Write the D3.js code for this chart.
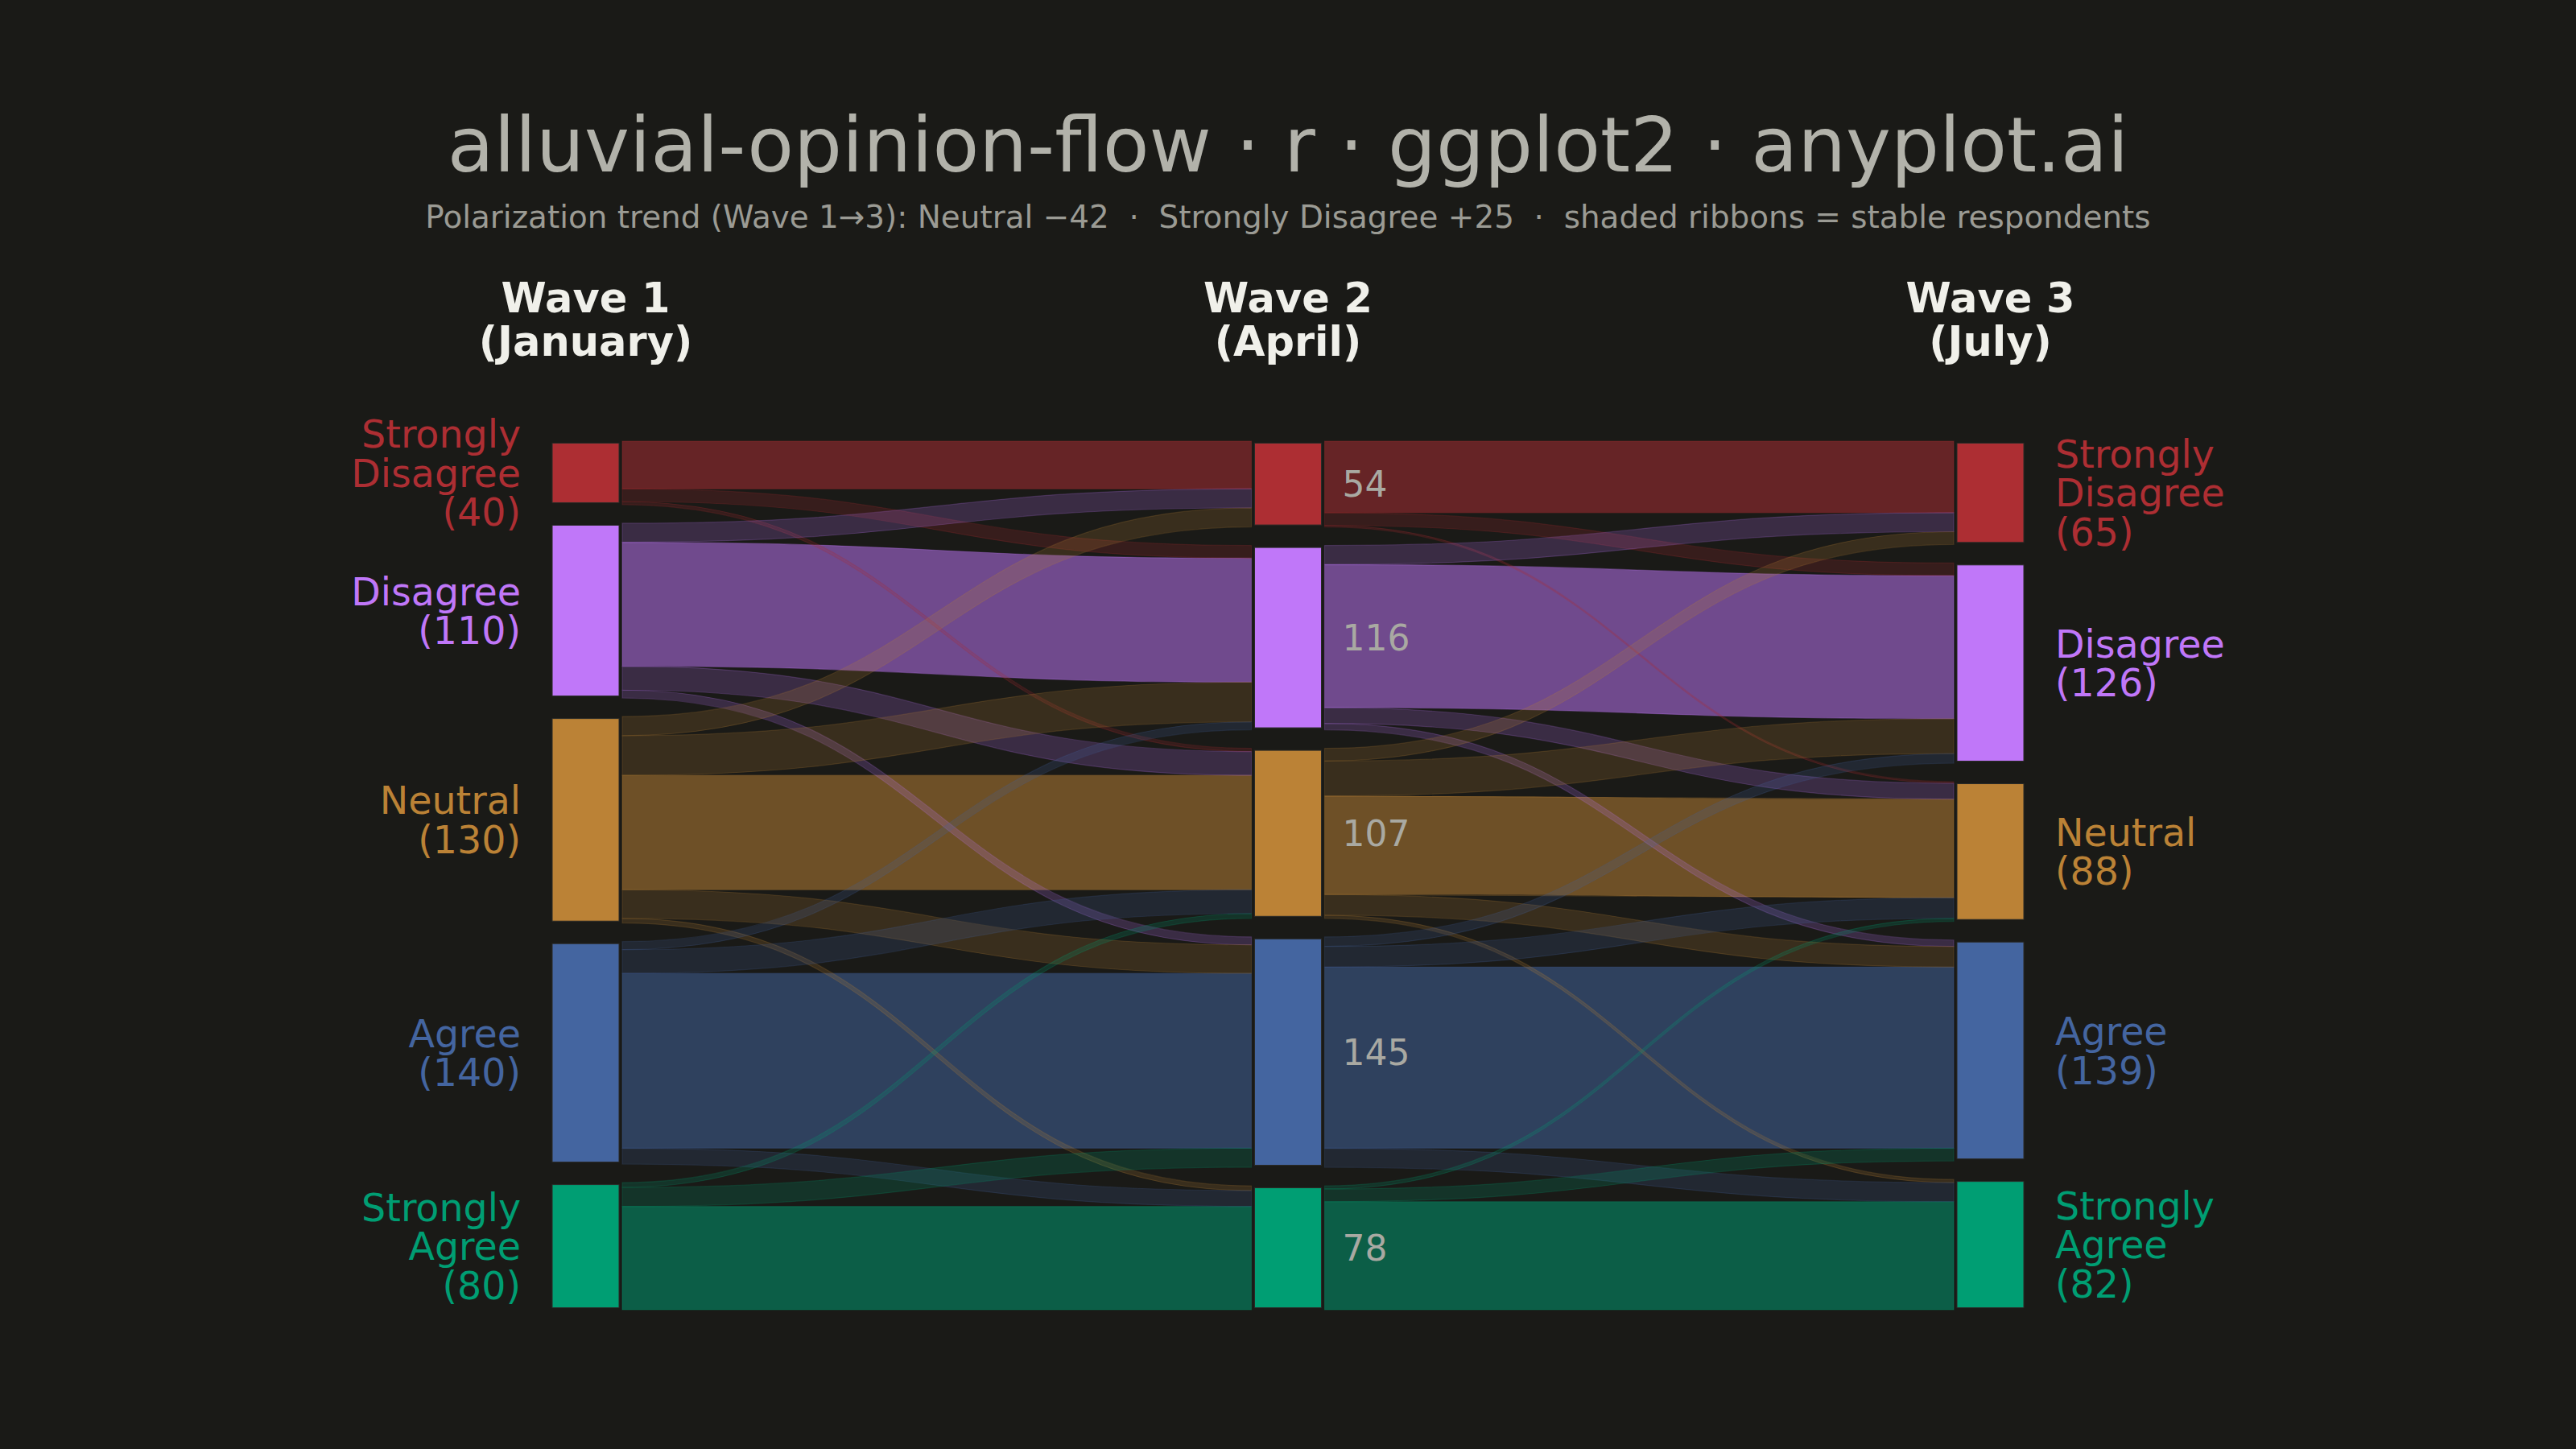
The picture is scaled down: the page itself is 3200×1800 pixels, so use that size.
<!DOCTYPE html>
<meta charset="utf-8">
<head>
  <title>Alluvial opinion flow</title>
</head>

<style>
html, body {
  margin: 0;
  padding: 0;
  background: #1a1a17;
}
svg {
  display: block;
  font-family: "DejaVu Sans", sans-serif;
}
</style>

<body>
  <svg width="3200" height="1800"></svg>

  <script src="https://cdn.jsdelivr.net/npm/d3@7"></script>
  <script>
// survey waves
var waves = ["Wave 1", "Wave 2", "Wave 3"];
var waveMonths = ["(January)", "(April)", "(July)"];

// opinion categories, top to bottom
var categories = ["Strongly Disagree", "Disagree", "Neutral", "Agree", "Strongly Agree"];
var categoryColors = ["#ad2e33", "#c077f9", "#bb8236", "#4465a0", "#009e73"];

// respondents moving between waves (rows = from, columns = to)
var flowsWave1to2 = [
  [30,  8,  2,   0,  0],
  [12, 78, 15,   5,  0],
  [12, 25, 72,  18,  3],
  [ 0,  5, 15, 110, 10],
  [ 0,  0,  3,  12, 65]
];
var flowsWave2to3 = [
  [45,  8,  1,   0,  0],
  [12, 90, 10,   4,  0],
  [ 8, 22, 62,  13,  2],
  [ 0,  6, 13, 114, 12],
  [ 0,  0,  2,   8, 68]
];

var title = "alluvial-opinion-flow · r · ggplot2 · anyplot.ai";
var subtitle = "Polarization trend (Wave 1\u21923): Neutral \u221242  \u00b7  Strongly Disagree +25  \u00b7  shaded ribbons = stable respondents";

var transitions = [flowsWave1to2, flowsWave2to3];

// node totals per wave
var rowSums = function(m) { return m.map(function(r) { return d3.sum(r); }); };
var colSums = function(m) { return m[0].map(function(_, j) { return d3.sum(m, function(r) { return r[j]; }); }); };
var totals = [rowSums(flowsWave1to2), colSums(flowsWave1to2), colSums(flowsWave2to3)];
var grand = d3.sum(totals[0]);

var gapUnits = 11.65;
var nodeW = 83;
var ribbonPad = 45.5;

var x = d3.scalePoint()
  .domain(waves)
  .range([727.5, 2472.5]);

var y = d3.scaleLinear()
  .domain([0, grand + gapUnits * (categories.length - 1)])
  .range([548, 1627]);

var color = d3.scaleOrdinal()
  .domain(categories)
  .range(categoryColors);

// stacked positions of each category at each wave
var nodes = totals.map(function(t, w) {
  var acc = 0;
  return t.map(function(v, i) {
    var n = { wave: w, cat: i, value: v, start: acc, end: acc + v };
    acc += v + gapUnits;
    return n;
  });
});

var svg = d3.select("svg");

svg.append("rect")
  .attr("width", 3200)
  .attr("height", 1800)
  .attr("fill", "#1a1a17");

// ribbons
var ribbons = [];
transitions.forEach(function(m, t) {
  var outOff = nodes[t].map(function(n) { return n.start; });
  var inOff = nodes[t + 1].map(function(n) { return n.start; });
  // offsets at source are ordered by destination, at target by source
  var inPos = {};
  for (var j = 0; j < categories.length; j++) {
    for (var i = 0; i < categories.length; i++) {
      if (m[i][j] > 0) {
        inPos[i + "-" + j] = inOff[j];
        inOff[j] += m[i][j];
      }
    }
  }
  for (var i2 = 0; i2 < categories.length; i2++) {
    for (var j2 = 0; j2 < categories.length; j2++) {
      var v = m[i2][j2];
      if (v <= 0) continue;
      ribbons.push({
        t: t, from: i2, to: j2, value: v,
        s0: outOff[i2], s1: outOff[i2] + v,
        d0: inPos[i2 + "-" + j2], d1: inPos[i2 + "-" + j2] + v,
        stable: i2 === j2
      });
      outOff[i2] += v;
    }
  }
});

function ribbonPath(r) {
  var x0 = x(waves[r.t]) + ribbonPad;
  var x1 = x(waves[r.t + 1]) - ribbonPad;
  var xm = (x0 + x1) / 2;
  var a0 = y(r.s0), a1 = y(r.s1), b0 = y(r.d0), b1 = y(r.d1);
  return "M" + x0 + "," + a0 +
    "C" + xm + "," + a0 + " " + xm + "," + b0 + " " + x1 + "," + b0 +
    "L" + x1 + "," + b1 +
    "C" + xm + "," + b1 + " " + xm + "," + a1 + " " + x0 + "," + a1 + "Z";
}

ribbons.sort(function(a, b) { return (b.stable ? 1 : 0) - (a.stable ? 1 : 0); });

svg.append("g")
  .selectAll("path")
  .data(ribbons)
  .enter()
  .append("path")
  .attr("d", ribbonPath)
  .attr("fill", function(d) { return color(categories[d.from]); })
  .attr("fill-opacity", function(d) { return d.stable ? 0.52 : 0.2; })
  .attr("stroke", function(d) { return color(categories[d.from]); })
  .attr("stroke-opacity", function(d) { return d.stable ? 0.3 : 0.2; })
  .attr("stroke-width", 1.2);

// strata
var allNodes = d3.merge(nodes);
svg.append("g")
  .selectAll("rect")
  .data(allNodes)
  .enter()
  .append("rect")
  .attr("x", function(d) { return x(waves[d.wave]) - nodeW / 2; })
  .attr("y", function(d) { return y(d.start) + 2.5; })
  .attr("width", nodeW)
  .attr("height", function(d) { return y(d.end) - y(d.start) - 5; })
  .attr("fill", function(d) { return color(categories[d.cat]); })
  .attr("stroke", "#2a2a27")
  .attr("stroke-width", 1);

// title and subtitle
svg.append("text")
  .attr("x", 1600)
  .attr("y", 213)
  .attr("text-anchor", "middle")
  .attr("font-size", 94.5)
  .attr("fill", "#b2b2aa")
  .text(title);

svg.append("text")
  .attr("x", 1600)
  .attr("y", 283)
  .attr("text-anchor", "middle")
  .attr("font-size", 38.9)
  .attr("fill", "#9b9b94")
  .style("white-space", "pre")
  .text(subtitle);

// wave headers
var headers = svg.append("g")
  .selectAll("text")
  .data(waves)
  .enter()
  .append("text")
  .attr("text-anchor", "middle")
  .attr("font-size", 51)
  .attr("font-weight", "bold")
  .attr("fill", "#f0f0ea");
headers.append("tspan")
  .attr("x", function(d) { return x(d); })
  .attr("y", 388)
  .text(function(d) { return d; });
headers.append("tspan")
  .attr("x", function(d) { return x(d); })
  .attr("y", 442)
  .text(function(d, i) { return waveMonths[i]; });

// category labels on the outer waves
var labelSize = 47.5, lineGap = 48.5, capH = 0.729 * labelSize;
function addLabels(waveIdx, xPos, anchor) {
  var g = svg.append("g");
  nodes[waveIdx].forEach(function(n) {
    var lines = categories[n.cat].split(" ").concat(["(" + n.value + ")"]);
    var mid = (y(n.start) + y(n.end)) / 2;
    var first = mid - ((lines.length - 1) * lineGap + capH) / 2 + capH;
    var t = g.append("text")
      .attr("text-anchor", anchor)
      .attr("font-size", labelSize)
      .attr("fill", color(categories[n.cat]));
    lines.forEach(function(l, k) {
      t.append("tspan")
        .attr("x", xPos)
        .attr("y", first + k * lineGap)
        .text(l);
    });
  });
}
addLabels(0, 647, "end");
addLabels(2, 2553, "start");

// counts for the middle wave
svg.append("g")
  .selectAll("text")
  .data(nodes[1])
  .enter()
  .append("text")
  .attr("x", x(waves[1]) + 67.5)
  .attr("y", function(d) { return (y(d.start) + y(d.end)) / 2 + 0.729 * 44 / 2; })
  .attr("font-size", 44)
  .attr("fill", "#a9a9a2")
  .text(function(d) { return d.value; });
  </script>
</body>
</html>
